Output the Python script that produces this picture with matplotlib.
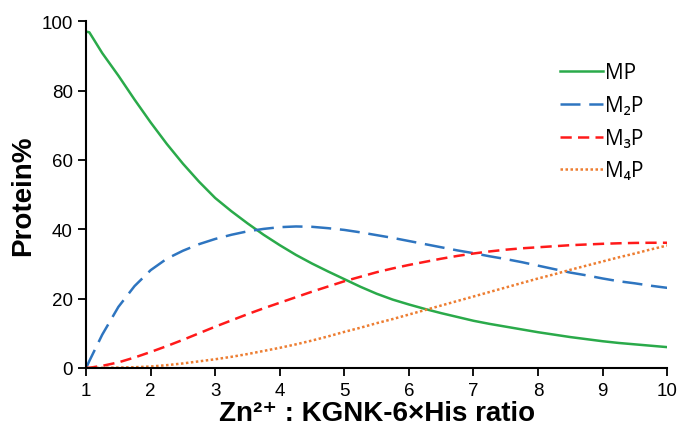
import matplotlib
matplotlib.use("Agg")
import matplotlib.pyplot as plt

ratio = [1.0, 1.05, 1.25, 1.5, 1.75, 2.0, 2.25, 2.5, 2.75, 3.0, 3.25, 3.5, 3.75, 4.0,
         4.25, 4.5, 4.75, 5.0, 5.25, 5.5, 5.75, 6.0, 6.25, 6.5, 6.75, 7.0, 7.25, 7.5,
         7.75, 8.0, 8.25, 8.5, 8.75, 9.0, 9.25, 9.5, 9.75, 10.0]
mp  = [97.0, 96.8, 90.8, 84.3, 77.4, 70.8, 64.6, 58.9, 53.7, 49.0, 45.2, 41.7, 38.4, 35.4,
       32.6, 30.1, 27.8, 25.6, 23.4, 21.4, 19.7, 18.3, 17.0, 15.8, 14.7, 13.6, 12.7, 11.9,
       11.1, 10.3, 9.6, 8.9, 8.3, 7.7, 7.2, 6.8, 6.4, 6.0]
m2p = [0.0, 2.0, 9.6, 17.6, 23.6, 28.2, 31.5, 33.8, 35.7, 37.2, 38.4, 39.4, 40.1, 40.6,
       40.8, 40.7, 40.3, 39.8, 39.1, 38.3, 37.5, 36.6, 35.7, 34.8, 33.9, 33.1, 32.2, 31.4,
       30.5, 29.5, 28.5, 27.5, 26.7, 25.8, 25.0, 24.4, 23.7, 23.1]
m3p = [0.0, 0.05, 0.6, 1.6, 3.0, 4.6, 6.3, 8.1, 10.0, 11.9, 13.7, 15.5, 17.2, 18.8,
       20.4, 22.0, 23.5, 25.0, 26.3, 27.6, 28.7, 29.7, 30.6, 31.5, 32.3, 33.0, 33.6, 34.1,
       34.5, 34.8, 35.1, 35.4, 35.6, 35.8, 35.95, 36.05, 36.1, 36.1]
m4p = [0.0, 0.0, 0.02, 0.1, 0.2, 0.4, 0.8, 1.3, 1.9, 2.5, 3.2, 4.0, 4.9, 5.8,
       6.8, 7.9, 9.1, 10.4, 11.6, 12.9, 14.1, 15.4, 16.7, 18.0, 19.3, 20.6, 21.9, 23.2,
       24.5, 25.8, 27.0, 28.3, 29.5, 30.7, 31.9, 33.0, 34.2, 35.3]

labels = ["MP", "M\u2082P", "M\u2083P", "M\u2084P"]
xticks = list(range(1, 11))
yticks = [0, 20, 40, 60, 80, 100]

plt.rcParams['font.family'] = ['Liberation Sans', 'DejaVu Sans']

fig = plt.figure(figsize=(6.78, 4.27), dpi=100)
ax = fig.add_axes([0.127, 0.136, 0.857, 0.812])

ax.plot(ratio, mp, color="#2aaa4a", lw=1.8, ls="-", label=labels[0])
ax.plot(ratio, m2p, color="#2e75c0", lw=1.8, ls=(0, (8, 3.5)), label=labels[1])
ax.plot(ratio, m3p, color="#ff1a1a", lw=1.8, ls=(0, (4.5, 2.5)), label=labels[2])
ax.plot(ratio, m4p, color="#ed7d31", lw=1.8, ls=(0, (1, 1)), label=labels[3])

ax.set_xlim(1, 10)
ax.set_ylim(0, 100)
ax.set_xticks(xticks)
ax.set_yticks(yticks)
ax.tick_params(axis='both', direction='out', length=6, width=1.3, labelsize=13.5, colors='black')
ax.tick_params(axis='x', pad=4)
for s in ['top', 'right']:
    ax.spines[s].set_visible(False)
for s in ['left', 'bottom']:
    ax.spines[s].set_linewidth(1.5)
    ax.spines[s].set_color('black')

ax.set_xlabel("Zn\u00b2\u207a : KGNK-6\u00d7His ratio", fontsize=20, fontweight='bold', labelpad=1)
ax.set_ylabel("Protein%", fontsize=20, fontweight='bold', labelpad=4)

leg = ax.legend(loc='upper left', bbox_to_anchor=(0.815, 0.881), frameon=False,
                prop={'family': ['Open Sans', 'DejaVu Sans'], 'size': 15},
                handlelength=2.1, handletextpad=0.1, labelspacing=0.56,
                borderpad=0, borderaxespad=0)

fig.savefig("out.png", dpi=100)
